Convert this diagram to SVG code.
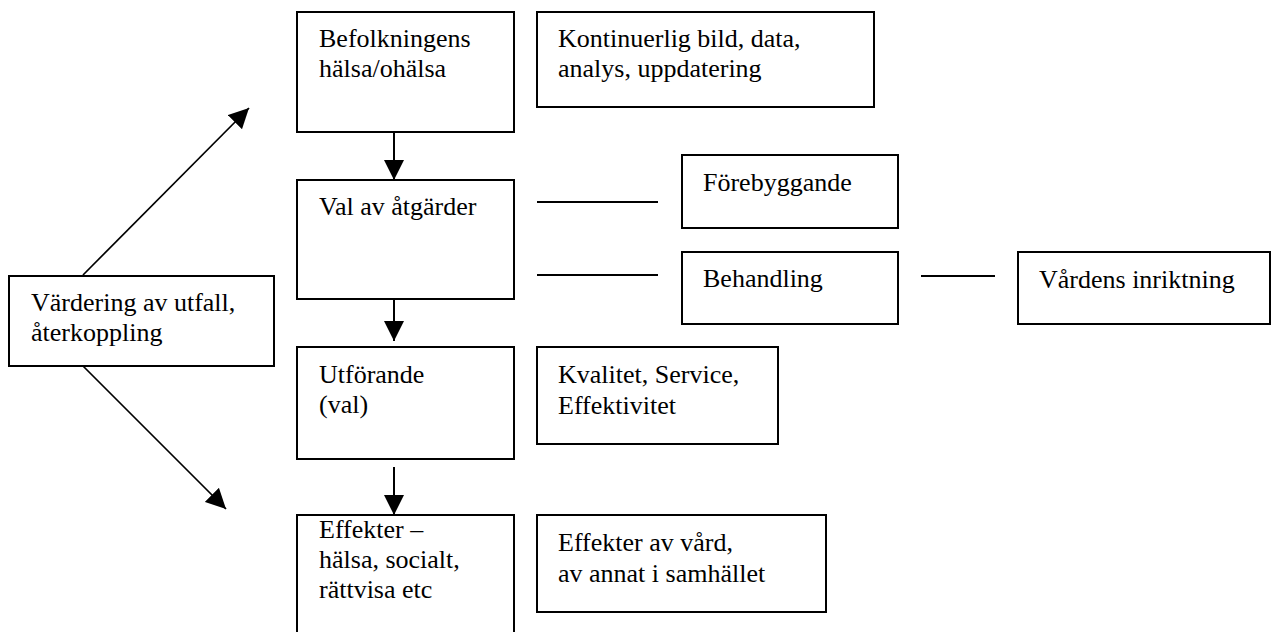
<svg xmlns="http://www.w3.org/2000/svg" width="1272" height="632" viewBox="0 0 1272 632">
<style>
.box{fill:#fff;stroke:#000;stroke-width:2}
.t{font-family:'Liberation Serif','Times New Roman','DejaVu Serif',serif;font-size:26px;fill:#000}
.c{stroke:#000;stroke-width:2;fill:none}
.d{stroke:#000;stroke-width:1.7;fill:none}
</style>
<defs>
<marker id="ah" viewBox="0 0 20 20" refX="20" refY="10" markerWidth="20" markerHeight="20" markerUnits="userSpaceOnUse" orient="auto">
<path d="M0,0 L20,10 L0,20 z" fill="#000"/>
</marker>
</defs>
<rect width="1272" height="632" fill="#fff"/>
<g id="connectors">
<line class="c" x1="394" y1="132" x2="394" y2="180" marker-end="url(#ah)"/>
<line class="c" x1="394" y1="299" x2="394" y2="341" marker-end="url(#ah)"/>
<line class="c" x1="394" y1="467" x2="394" y2="515" marker-end="url(#ah)"/>
<line class="d" x1="83" y1="275" x2="249" y2="108" marker-end="url(#ah)"/>
<line class="d" x1="83" y1="366" x2="226" y2="509" marker-end="url(#ah)"/>
<line class="c" x1="537" y1="202" x2="658" y2="202"/>
<line class="c" x1="537" y1="275" x2="658" y2="275"/>
<line class="c" x1="921" y1="276" x2="995" y2="276"/>
</g>
<g font-family="'Liberation Serif', 'Times New Roman', serif">
<g id="befolkning">
<rect class="box" x="297" y="12" width="217" height="120"/>
<text class="t" x="319" y="47">Befolkningens</text>
<text class="t" x="319" y="77">hälsa/ohälsa</text>
</g>
<g id="kontinuerlig">
<rect class="box" x="537" y="12" width="337" height="95"/>
<text class="t" x="558" y="47">Kontinuerlig bild, data,</text>
<text class="t" x="558" y="77">analys, uppdatering</text>
</g>
<g id="val">
<rect class="box" x="297" y="180" width="217" height="119"/>
<text class="t" x="319" y="215">Val av åtgärder</text>
</g>
<g id="forebyggande">
<rect class="box" x="682" y="155" width="216" height="73"/>
<text class="t" x="703" y="191">Förebyggande</text>
</g>
<g id="behandling">
<rect class="box" x="682" y="252" width="216" height="72"/>
<text class="t" x="703" y="287">Behandling</text>
</g>
<g id="vardens">
<rect class="box" x="1018" y="252" width="252" height="72"/>
<text class="t" x="1039" y="288">Vårdens inriktning</text>
</g>
<g id="vardering">
<rect class="box" x="9" y="276" width="265" height="90"/>
<text class="t" x="31" y="311">Värdering av utfall,</text>
<text class="t" x="31" y="341">återkoppling</text>
</g>
<g id="utforande">
<rect class="box" x="297" y="347" width="217" height="112"/>
<text class="t" x="319" y="383">Utförande</text>
<text class="t" x="319" y="413">(val)</text>
</g>
<g id="kvalitet">
<rect class="box" x="537" y="347" width="241" height="97"/>
<text class="t" x="558" y="383">Kvalitet, Service,</text>
<text class="t" x="558" y="414">Effektivitet</text>
</g>
<g id="effekter">
<rect class="box" x="297" y="515" width="217" height="130"/>
<text class="t" x="319" y="538">Effekter –</text>
<text class="t" x="319" y="568">hälsa, socialt,</text>
<text class="t" x="319" y="598">rättvisa etc</text>
</g>
<g id="effekter-vard">
<rect class="box" x="537" y="515" width="289" height="97"/>
<text class="t" x="558" y="551">Effekter av vård,</text>
<text class="t" x="558" y="582">av annat i samhället</text>
</g>
</g>
</svg>
